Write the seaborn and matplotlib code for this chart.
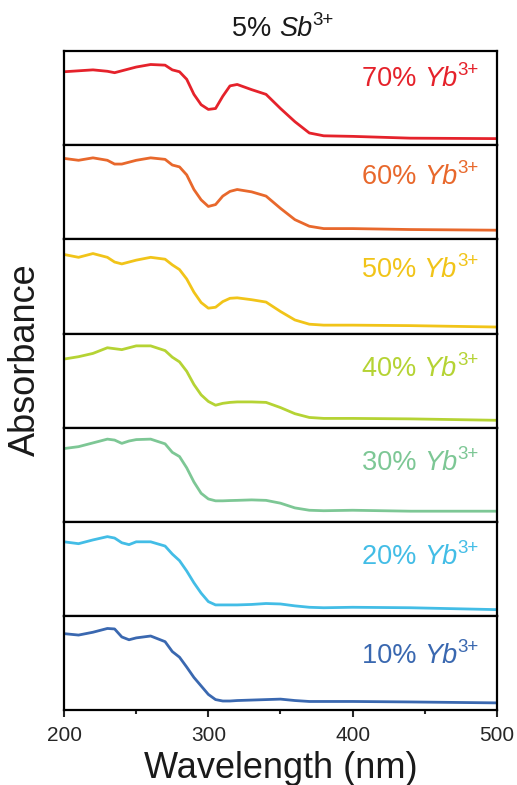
import numpy as np
import pandas as pd
import matplotlib
matplotlib.use("Agg")
import matplotlib.pyplot as plt
import seaborn as sns
from matplotlib.ticker import MultipleLocator

# ---- data (normalized absorbance per panel) ----
wavelength = [200, 210, 220, 230, 235, 240, 245, 250, 260, 270, 275, 280, 285, 290,
              295, 300, 305, 310, 315, 320, 330, 340, 350, 360, 370, 380, 400, 440, 500]

yb70 = [.78, .79, .80, .785, .77, .79, .81, .83, .857, .85, .80, .78, .70, .54,
        .43, .38, .39, .52, .63, .645, .59, .54, .39, .25, .13, .10, .094, .075, .07]
yb60 = [.86, .84, .866, .84, .80, .80, .82, .84, .866, .85, .79, .77, .685, .53,
        .42, .35, .37, .46, .51, .53, .505, .46, .33, .21, .14, .115, .115, .105, .098]
yb50 = [.84, .81, .85, .81, .76, .74, .76, .78, .81, .79, .73, .68, .58, .44,
        .33, .27, .28, .34, .375, .38, .36, .335, .235, .145, .10, .09, .09, .085, .07]
yb40 = [.73, .755, .79, .85, .84, .83, .85, .87, .87, .82, .75, .70, .60, .46,
        .35, .28, .24, .26, .27, .275, .275, .27, .215, .15, .11, .10, .10, .095, .08]
yb30 = [.78, .80, .84, .88, .87, .835, .86, .875, .88, .83, .74, .695, .575, .425,
        .305, .245, .225, .225, .228, .23, .235, .23, .20, .15, .125, .12, .125, .115, .115]
yb20 = [.79, .77, .81, .845, .83, .78, .76, .79, .79, .745, .66, .59, .48, .355,
        .245, .155, .12, .12, .12, .12, .125, .135, .13, .11, .095, .09, .095, .09, .07]
yb10 = [.815, .80, .83, .87, .865, .78, .75, .77, .79, .73, .625, .565, .46, .35,
        .26, .17, .115, .10, .10, .105, .11, .115, .12, .105, .095, .095, .095, .09, .08]

series = [yb70, yb60, yb50, yb40, yb30, yb20, yb10]
labels = ["70%", "60%", "50%", "40%", "30%", "20%", "10%"]
colors = ["#E5222B", "#E8682C", "#F1C419", "#B5D334", "#7DC795", "#43BDE6", "#3A68B0"]
xticks = [200, 300, 400, 500]

# label baseline positions (axes fraction) - layout only
label_base = [0.627, 0.585, 0.60, 0.55, 0.547, 0.55, 0.50]

# ---- style ----
sns.set_style("ticks")
plt.rcParams["font.family"] = ["Liberation Sans", "DejaVu Sans"]

fig, axes = plt.subplots(len(series), 1, figsize=(5.17, 7.85), dpi=100, sharex=True)
fig.subplots_adjust(left=0.124, right=0.961, top=0.935, bottom=0.095, hspace=0)

MAIN, SUB, RAISE = 19.5, 13.5, 9.5


def sup_label(ax, parent_text, main, sup, color):
    t2 = ax.annotate(main, xy=(1, 0), xycoords=parent_text, va="bottom", ha="left",
                     color=color, fontsize=MAIN, style="italic", annotation_clip=False)
    t3 = ax.annotate(sup, xy=(1, 0), xycoords=t2, xytext=(0.5, RAISE),
                     textcoords="offset points", va="bottom", ha="left",
                     color=color, fontsize=SUB, annotation_clip=False)
    return t2, t3


for ax, vals, lab, col, yb in zip(axes, series, labels, colors, label_base):
    df = pd.DataFrame({"Wavelength": wavelength, "Absorbance": vals})
    sns.lineplot(data=df, x="Wavelength", y="Absorbance", ax=ax, color=col, linewidth=2.0)
    ax.set_xlim(200, 500)
    ax.set_ylim(0, 1)
    ax.set_yticks([])
    ax.set_xlabel("")
    ax.set_ylabel("")
    for s in ax.spines.values():
        s.set_linewidth(1.6)
        s.set_color("black")
    t1 = ax.text(0.688, yb, lab + " ", transform=ax.transAxes, ha="left", va="baseline",
                 color=col, fontsize=MAIN)
    sup_label(ax, t1, "Yb", "3+", col)
    ax.tick_params(axis="x", which="both", bottom=False, labelbottom=False)

bottom = axes[-1]
bottom.set_xticks(xticks)
bottom.xaxis.set_minor_locator(MultipleLocator(50))
bottom.tick_params(axis="x", which="major", bottom=True, labelbottom=True, direction="out",
                   length=5, width=1.5, labelsize=15, pad=6)
bottom.tick_params(axis="x", which="minor", bottom=True, direction="out", length=2.8, width=1.5)

# title: 5% Sb3+
top = axes[0]
tt1 = top.text(0.388, 1.16, "5% ", transform=top.transAxes, ha="left", va="baseline",
               fontsize=MAIN, color="#1a1a1a")
sup_label(top, tt1, "Sb", "3+", "#1a1a1a")

fig.text(0.5426, 1 - 768 / 785, "Wavelength (nm)", ha="center", va="center", fontsize=26,
         color="#1a1a1a")
fig.text(0.05, 1 - 360 / 785, "Absorbance", ha="center", va="center", rotation=90,
         fontsize=26, color="#1a1a1a")

fig.savefig("out.png", dpi=100)
